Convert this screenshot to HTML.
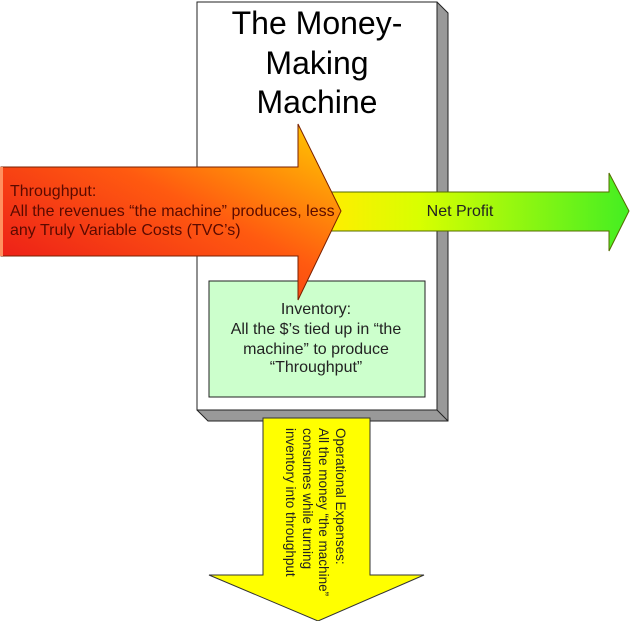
<!DOCTYPE html>
<html><head><meta charset="utf-8"><style>html,body{margin:0;padding:0;background:#fff;}svg{display:block}</style></head>
<body>
<svg width="630" height="621" viewBox="0 0 630 621" xmlns="http://www.w3.org/2000/svg" font-family="Liberation Sans, Arial, sans-serif">
<defs>
<linearGradient id="tp" x1="0" y1="1" x2="1" y2="0">
<stop offset="0" stop-color="#e8101a"/>
<stop offset="0.55" stop-color="#ff5a10"/>
<stop offset="1" stop-color="#ffd000"/>
</linearGradient>
<linearGradient id="np" x1="0" y1="0" x2="1" y2="0">
<stop offset="0" stop-color="#ffee00"/>
<stop offset="0.3" stop-color="#d8ff00"/>
<stop offset="1" stop-color="#44ee22"/>
</linearGradient>
</defs>
<polygon points="197,2 437,2 448,13 448,421 208,421 197,410" fill="#999" stroke="#222" stroke-width="1"/>
<rect x="197" y="2" width="240" height="408" fill="#fff" stroke="#222" stroke-width="1"/>
<line x1="437" y1="410" x2="448" y2="421" stroke="#222"/>
<text x="317" y="34" font-size="32" text-anchor="middle" fill="#000">The Money-</text>
<text x="317" y="74" font-size="32" text-anchor="middle" fill="#000">Making</text>
<text x="317" y="113" font-size="32" text-anchor="middle" fill="#000">Machine</text>
<polygon points="330,192 609,192 609,173 629,211 609,251 609,231 330,231" fill="url(#np)" stroke="#556b00" stroke-width="1"/>
<text x="460" y="216" font-size="16" text-anchor="middle" fill="#222">Net Profit</text>
<rect x="209" y="281" width="216" height="116" fill="#ccffcc" stroke="#222" stroke-width="1"/>
<polygon points="1,167 298,167 298,124 341,211 298,300 298,256 1,256" fill="url(#tp)" stroke="#7a2000" stroke-width="1"/>
<rect x="0" y="167" width="3" height="89" fill="#ff9060"/>
<text font-size="16" fill="#5a0a00"><tspan x="10" y="196">Throughput:</tspan><tspan x="10" y="216">All the revenues “the machine” produces, less</tspan><tspan x="10" y="235">any Truly Variable Costs (TVC’s)</tspan></text>
<text font-size="16" fill="#222" text-anchor="middle"><tspan x="316" y="314">Inventory:</tspan><tspan x="316" y="334">All the $’s tied up in “the</tspan><tspan x="316" y="354">machine” to produce</tspan><tspan x="316" y="372">“Throughput”</tspan></text>
<polygon points="263,418 370,418 370,575 424,575 318,621 209,575 263,575" fill="#ffff00" stroke="#333" stroke-width="1"/>
<g font-size="13.5" fill="#222">
<text transform="translate(336,428) rotate(90)">Operational Expenses:</text>
<text transform="translate(319,428) rotate(90)">All the money “the machine”</text>
<text transform="translate(303,428) rotate(90)">consumes while turning</text>
<text transform="translate(286,428) rotate(90)">inventory into throughput</text>
</g>
</svg>
</body></html>
